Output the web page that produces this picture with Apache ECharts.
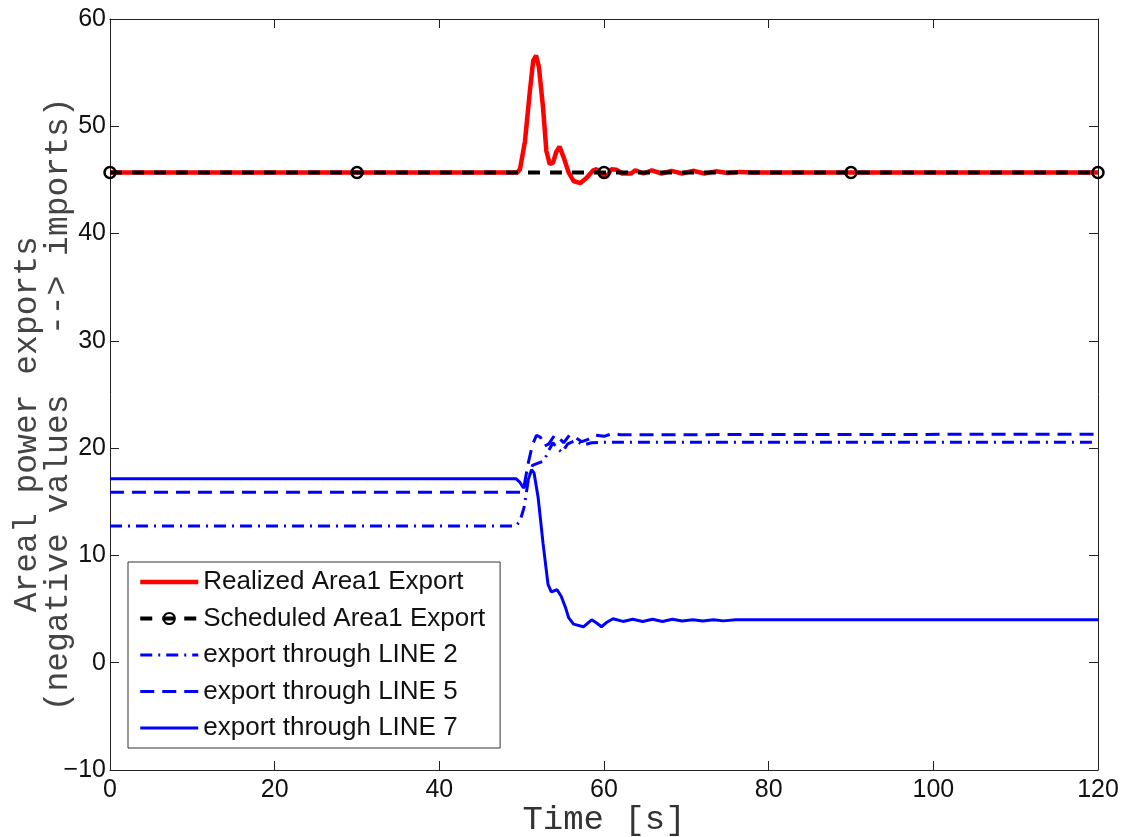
<!DOCTYPE html>
<html>
<head>
<meta charset="utf-8">
<script src="https://cdn.jsdelivr.net/npm/echarts@6/dist/echarts.min.js"></script>
<style>
  html, body { margin: 0; padding: 0; background: #fff; }
  #chart { width: 1132px; height: 837px; }
</style>
</head>
<body>
<div id="chart"></div>
<script>
// time [s] / value pairs
const realized = [
  [0, 45.7], [49.5, 45.7], [49.8, 46.0], [50.4, 48.6], [51.0, 53.3], [51.4, 56.1],
  [51.75, 56.6], [52.1, 55.5], [52.6, 51.7], [53.0, 47.7], [53.4, 46.5], [53.8, 46.6],
  [54.2, 47.6], [54.6, 48.1], [55.1, 47.1], [55.7, 45.7], [56.3, 44.9], [57.1, 44.7],
  [57.9, 45.2], [58.7, 45.9], [59.1, 46.0], [59.7, 45.4], [60.3, 45.3], [60.9, 46.0],
  [61.5, 45.95], [62.2, 45.6], [63.3, 45.6], [63.8, 45.9], [64.8, 45.6], [65.8, 45.9],
  [67.0, 45.6], [68.2, 45.85], [69.5, 45.6], [70.8, 45.85], [72.2, 45.6], [73.6, 45.8],
  [75.0, 45.65], [76.5, 45.75], [78.0, 45.7], [120, 45.7]
];

const scheduled = [[0, 45.7], [30, 45.7], [60, 45.7], [90, 45.7], [120, 45.7]];

const line2 = [
  [0, 12.75], [49.3, 12.75], [49.8, 13.2], [50.3, 14.5], [50.8, 17.0], [51.3, 18.4],
  [52.0, 18.6], [52.7, 18.8], [53.3, 19.8], [53.8, 20.5], [54.3, 20.0], [54.9, 19.6],
  [55.6, 20.4], [56.5, 20.7], [57.5, 20.3], [58.5, 20.5], [60.0, 20.55], [120, 20.55]
];

const line5 = [
  [0, 15.9], [49.8, 15.9], [50.3, 16.5], [50.8, 18.6], [51.3, 20.3], [51.8, 21.2],
  [52.3, 21.0], [52.8, 20.2], [53.3, 20.4], [54.0, 21.2], [54.6, 20.9], [55.1, 20.5],
  [55.8, 21.2], [56.5, 21.0], [57.3, 20.6], [58.0, 20.8], [59.0, 21.2], [60.0, 21.1],
  [61.0, 21.35], [62.0, 21.25], [120, 21.3]
];

const line7 = [
  [0, 17.15], [49.3, 17.15], [49.8, 16.8], [50.2, 16.3], [50.6, 16.6], [51.2, 18.0],
  [51.5, 17.7], [52.0, 15.4], [52.6, 11.1], [53.2, 7.3], [53.6, 6.6], [54.3, 6.8],
  [54.8, 6.2], [55.3, 5.2], [55.7, 4.2], [56.3, 3.6], [57.5, 3.35], [58.5, 4.0],
  [59.1, 3.7], [59.7, 3.35], [60.4, 3.8], [61.1, 4.1], [62.3, 3.85], [63.5, 4.05],
  [64.7, 3.85], [65.9, 4.05], [67.1, 3.85], [68.3, 4.05], [69.5, 3.88], [70.8, 4.0],
  [72.0, 3.88], [73.3, 4.0], [74.5, 3.9], [76.0, 4.0], [120, 4.0]
];

const seriesNames = [
  'Realized Area1 Export',
  'Scheduled Area1 Export',
  'export through LINE 2',
  'export through LINE 5',
  'export through LINE 7'
];

const chart = echarts.init(document.getElementById('chart'));

const tickStyle = { inside: true, length: 9, lineStyle: { color: '#222', width: 1 } };
const lineAx = { show: true, onZero: false, lineStyle: { color: '#222', width: 1 } };
const labelFont = { fontFamily: 'Liberation Sans, Arial', fontSize: 25, color: '#111' };
// hide the marker in legend icons of the plain lines
const noMark = { opacity: 0 };

chart.setOption({
  animation: false,
  backgroundColor: '#fff',
  grid: { left: 110, right: 34, top: 19, bottom: 67, outerBoundsMode: 'none', containLabel: false },
  legend: {
    data: [
      { name: seriesNames[0], itemStyle: noMark, lineStyle: { width: 4.5 } },
      { name: seriesNames[1], lineStyle: { width: 4 } },
      { name: seriesNames[2], itemStyle: noMark, lineStyle: { width: 3 } },
      { name: seriesNames[3], itemStyle: noMark, lineStyle: { width: 3 } },
      { name: seriesNames[4], itemStyle: noMark, lineStyle: { width: 3 } }
    ],
    orient: 'vertical',
    left: 128,
    top: 562,
    itemWidth: 58,
    itemHeight: 14,
    itemGap: 10.5,
    padding: [7, 15, 7, 10],
    backgroundColor: '#fff',
    borderColor: '#333',
    borderWidth: 1,
    borderRadius: 0,
    textStyle: { fontFamily: 'Liberation Sans, Arial', fontSize: 26, color: '#111', lineHeight: 26 }
  },
  xAxis: [
    {
      type: 'value', min: 0, max: 120, interval: 20,
      name: 'Time [s]', nameLocation: 'middle', nameGap: 33, nameMoveOverlap: false,
      nameTextStyle: { fontFamily: 'Liberation Mono, Courier New', fontSize: 34, color: '#333' },
      axisLine: lineAx, axisTick: tickStyle,
      axisLabel: Object.assign({ margin: 8 }, labelFont),
      splitLine: { show: false }
    },
    {
      type: 'value', min: 0, max: 120, interval: 20, position: 'top',
      axisLine: lineAx, axisTick: tickStyle, axisLabel: { show: false }, splitLine: { show: false }
    }
  ],
  yAxis: [
    {
      type: 'value', min: -10, max: 60, interval: 10,
      name: 'Areal power exports   \n(negative values   --> imports) ',
      nameLocation: 'middle', nameGap: 36, nameRotate: 90, nameMoveOverlap: false,
      nameTextStyle: { fontFamily: 'Liberation Mono, Courier New', fontSize: 33, color: '#444', lineHeight: 31 },
      axisLine: lineAx, axisTick: tickStyle,
      axisLabel: Object.assign({ margin: 4, formatter: v => String(v).replace('-', '\u2212') }, labelFont),
      splitLine: { show: false }
    },
    {
      type: 'value', min: -10, max: 60, interval: 10, position: 'right',
      axisLine: lineAx, axisTick: tickStyle, axisLabel: { show: false }, splitLine: { show: false }
    }
  ],
  series: [
    {
      name: seriesNames[0], type: 'line', data: realized, symbol: 'none',
      lineStyle: { color: '#ff0000', width: 4.5 }, itemStyle: { color: '#ff0000' }, z: 2
    },
    {
      name: seriesNames[1], type: 'line', data: scheduled,
      symbol: 'circle', symbolSize: 11, showSymbol: true,
      lineStyle: { color: '#000', width: 4, type: [12, 10] },
      itemStyle: { color: 'rgba(0,0,0,0)', borderColor: '#000', borderWidth: 2.5 }, z: 3
    },
    {
      name: seriesNames[2], type: 'line', data: line2, symbol: 'none',
      lineStyle: { color: '#0000ff', width: 3, type: [12, 6, 2, 6] }, itemStyle: { color: '#0000ff' }, z: 2
    },
    {
      name: seriesNames[3], type: 'line', data: line5, symbol: 'none',
      lineStyle: { color: '#0000ff', width: 3, type: [14, 8] }, itemStyle: { color: '#0000ff' }, z: 2
    },
    {
      name: seriesNames[4], type: 'line', data: line7, symbol: 'none',
      lineStyle: { color: '#0000ff', width: 3 }, itemStyle: { color: '#0000ff' }, z: 2
    }
  ]
});

window.addEventListener('resize', function () { chart.resize(); });
</script>
</body>
</html>
